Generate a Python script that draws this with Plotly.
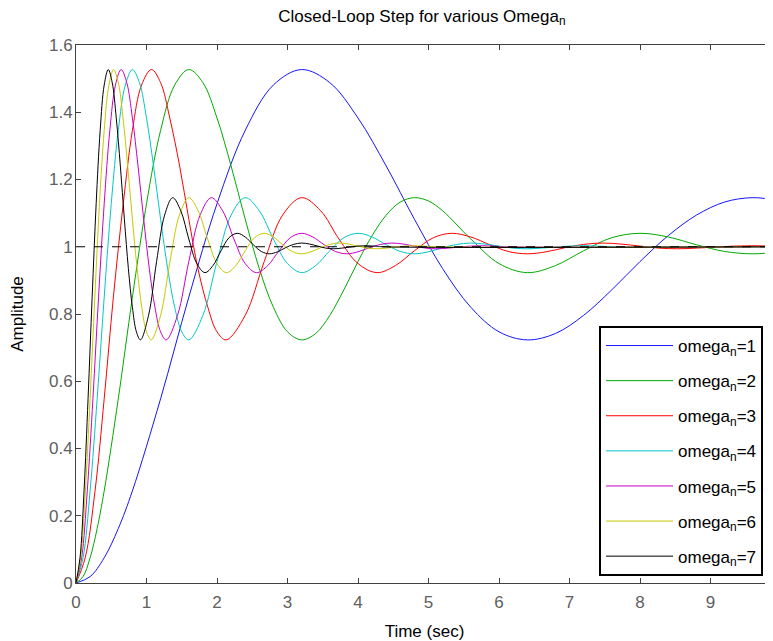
import plotly.graph_objects as go

# Values (time in seconds, amplitude)
t_w1 = [0, 0.2, 0.4, 0.6, 0.8, 1.2, 1.6, 2.0, 2.4, 2.8, 3.2, 3.6, 4.0, 4.4, 4.8, 5.2, 5.6, 6.0, 6.4,
        6.8, 7.2, 7.6, 8.0, 8.4, 8.8, 9.2, 9.6, 10.0]
y_w1 = [0, 0.019, 0.075, 0.162, 0.274, 0.548, 0.850, 1.128, 1.346, 1.481, 1.527, 1.488, 1.383, 1.240, 1.082,
        0.935, 0.820, 0.747, 0.723, 0.742, 0.796, 0.872, 0.956, 1.033, 1.094, 1.133, 1.146, 1.136]

t_w2 = [0, 0.1, 0.2, 0.3, 0.4, 0.6, 0.8, 1.0, 1.2, 1.4, 1.6, 1.8, 2.0, 2.2, 2.4, 2.6, 2.8, 3.0, 3.2,
        3.4, 3.6, 3.8, 4.0, 4.2, 4.4, 4.6, 4.8, 5.0,
        5.2, 5.6, 6.0, 6.4, 6.8, 7.2, 7.6, 8.0, 8.4, 8.8, 9.2, 9.6, 10.0]
y_w2 = [0, 0.019, 0.075, 0.162, 0.274, 0.548, 0.850, 1.128, 1.346, 1.481, 1.527, 1.488, 1.383, 1.240, 1.082,
        0.935, 0.820, 0.747, 0.723,
        0.742, 0.796, 0.872, 0.956, 1.033, 1.094, 1.133, 1.146, 1.136,
        1.107, 1.023, 0.950, 0.923, 0.944, 0.988, 1.027, 1.040, 1.029, 1.006, 0.986, 0.979, 0.985]

t_w3 = [0, 0.13, 0.27, 0.4, 0.53, 0.67, 0.8, 0.93, 1.07, 1.2, 1.33, 1.47, 1.6, 1.73, 1.87, 2.0, 2.13,
        2.4, 2.67, 2.93, 3.2, 3.47, 3.73, 4.0, 4.27, 4.53, 4.8, 5.07, 5.33, 5.6, 5.87, 6.13, 6.4,
        6.67, 6.93, 7.2, 7.47, 7.73, 8.0, 8.27, 8.53, 8.8, 9.07, 9.33, 9.6, 9.87, 10.13]
y_w3 = [0, 0.075, 0.274, 0.548, 0.850, 1.128, 1.346, 1.481, 1.527, 1.488, 1.383, 1.240, 1.082,
        0.935, 0.820, 0.747, 0.723,
        0.796, 0.956, 1.094, 1.146, 1.107, 1.023, 0.950, 0.923, 0.944, 0.988, 1.027, 1.040,
        1.029, 1.006, 0.986, 0.979, 0.985, 0.997, 1.007, 1.011, 1.008, 1.002, 0.996, 0.994,
        0.996, 0.999, 1.002, 1.003, 1.002, 1.000]

t_w4 = [0, 0.1, 0.2, 0.3, 0.4, 0.5, 0.6, 0.7, 0.8, 0.9, 1.0, 1.1, 1.2, 1.3, 1.4, 1.5, 1.6,
        1.8, 2.0, 2.2, 2.4, 2.6, 2.8, 3.0, 3.2, 3.4, 3.6, 3.8, 4.0, 4.2, 4.4, 4.6, 4.8,
        5.0, 5.2, 5.4, 5.6, 5.8, 6.0, 6.2, 6.4, 6.6, 6.8, 7.0, 7.2, 7.4, 7.6, 10.0]
y_w4 = [0, 0.075, 0.274, 0.548, 0.850, 1.128, 1.346, 1.481, 1.527, 1.488, 1.383, 1.240, 1.082,
        0.935, 0.820, 0.747, 0.723,
        0.796, 0.956, 1.094, 1.146, 1.107, 1.023, 0.950, 0.923, 0.944, 0.988, 1.027, 1.040,
        1.029, 1.006, 0.986, 0.979, 0.985, 0.997, 1.007, 1.011, 1.008, 1.002, 0.996, 0.994,
        0.996, 0.999, 1.002, 1.003, 1.002, 1.000, 1.000]

t_w5 = [0, 0.08, 0.16, 0.24, 0.32, 0.4, 0.48, 0.56, 0.64, 0.72, 0.8, 0.88, 0.96, 1.04, 1.12, 1.2, 1.28,
        1.44, 1.6, 1.76, 1.92, 2.08, 2.24, 2.4, 2.56, 2.72, 2.88, 3.04, 3.2, 3.36, 3.52, 3.68, 3.84,
        4.0, 4.16, 4.32, 4.48, 4.64, 4.8, 4.96, 5.12, 5.28, 5.44, 5.6, 5.76, 5.92, 6.08, 10.0]
y_w5 = list(y_w4)

t_w6 = [0, 0.067, 0.133, 0.2, 0.267, 0.333, 0.4, 0.467, 0.533, 0.6, 0.667, 0.733, 0.8, 0.867, 0.933, 1.0, 1.067,
        1.2, 1.333, 1.467, 1.6, 1.733, 1.867, 2.0, 2.133, 2.267, 2.4, 2.533, 2.667, 2.8, 2.933, 3.067, 3.2,
        3.333, 3.467, 3.6, 3.733, 3.867, 4.0, 4.133, 4.267, 4.4, 4.533, 4.667, 4.8, 4.933, 5.067, 10.0]
y_w6 = list(y_w4)

t_w7 = [0, 0.057, 0.114, 0.171, 0.229, 0.286, 0.343, 0.4, 0.457, 0.514, 0.571, 0.629, 0.686, 0.743, 0.8, 0.857, 0.914,
        1.029, 1.143, 1.257, 1.371, 1.486, 1.6, 1.714, 1.829, 1.943, 2.057, 2.171, 2.286, 2.4, 2.514, 2.629, 2.743,
        2.857, 2.971, 3.086, 3.2, 3.314, 3.429, 3.543, 3.657, 3.771, 3.886, 4.0, 4.114, 4.229, 4.343, 10.0]
y_w7 = list(y_w4)

final_t = [0, 10.0]
final_y = [1, 1]

series_names = ["omega<sub>n</sub>=1", "omega<sub>n</sub>=2", "omega<sub>n</sub>=3", "omega<sub>n</sub>=4",
                "omega<sub>n</sub>=5", "omega<sub>n</sub>=6", "omega<sub>n</sub>=7"]
series_t = [t_w1, t_w2, t_w3, t_w4, t_w5, t_w6, t_w7]
series_y = [y_w1, y_w2, y_w3, y_w4, y_w5, y_w6, y_w7]
colors = ["#1414FF", "#00AA00", "#FF0000", "#00C8C8", "#C800C8", "#C8C800", "#000000"]

x_ticks = [0, 1, 2, 3, 4, 5, 6, 7, 8, 9]
y_ticks = [0, 0.2, 0.4, 0.6, 0.8, 1, 1.2, 1.4, 1.6]

FONT = "Liberation Sans, Arial, sans-serif"
FS = 17

fig = go.Figure()
for i, (name, tx, ty, c) in enumerate(zip(series_names, series_t, series_y, colors)):
    fig.add_trace(go.Scatter(x=tx, y=ty, mode="lines", name=name, legendgroup=f"g{i}",
                             line=dict(color=c, width=1, shape="spline", smoothing=1.0)))
fig.add_trace(go.Scatter(x=final_t, y=final_y, mode="lines", showlegend=False,
                         line=dict(color="black", width=1, dash="dash")))

axis_common = dict(showgrid=False, zeroline=False, showline=True, linecolor="#404040", linewidth=1,
                   mirror="ticks", ticks="inside", ticklen=5, tickcolor="#404040", automargin=False,
                   tickfont=dict(family=FONT, size=FS, color="#606060"))

# page body has an 8px margin, so the figure is sized to fill the remaining window
fig.update_layout(
    width=765, height=633,
    margin=dict(l=68, r=0, t=37, b=58, autoexpand=False),
    paper_bgcolor="white", plot_bgcolor="white",
    title=dict(text="Closed-Loop Step for various Omega<sub>n</sub>", x=0.541, xanchor="center",
               y=0.988, yanchor="middle", font=dict(family=FONT, size=FS, color="black")),
    xaxis=dict(range=[0, 9.886], tickvals=x_ticks, ticklabelstandoff=4,
               title=dict(text="Time (sec)", font=dict(family=FONT, size=FS, color="black"), standoff=13),
               **axis_common),
    yaxis=dict(range=[0, 1.6], tickvals=y_ticks, ticklabelstandoff=-1,
               title=dict(text="Amplitude", font=dict(family=FONT, size=FS, color="black"), standoff=23),
               **axis_common),
    legend=dict(x=0.7504, y=0.4777, xanchor="left", yanchor="top", bgcolor="white",
                bordercolor="black", borderwidth=2, tracegroupgap=10, itemwidth=67,
                font=dict(family=FONT, size=FS, color="black")),
    showlegend=True,
)

fig.write_html("out.html")
